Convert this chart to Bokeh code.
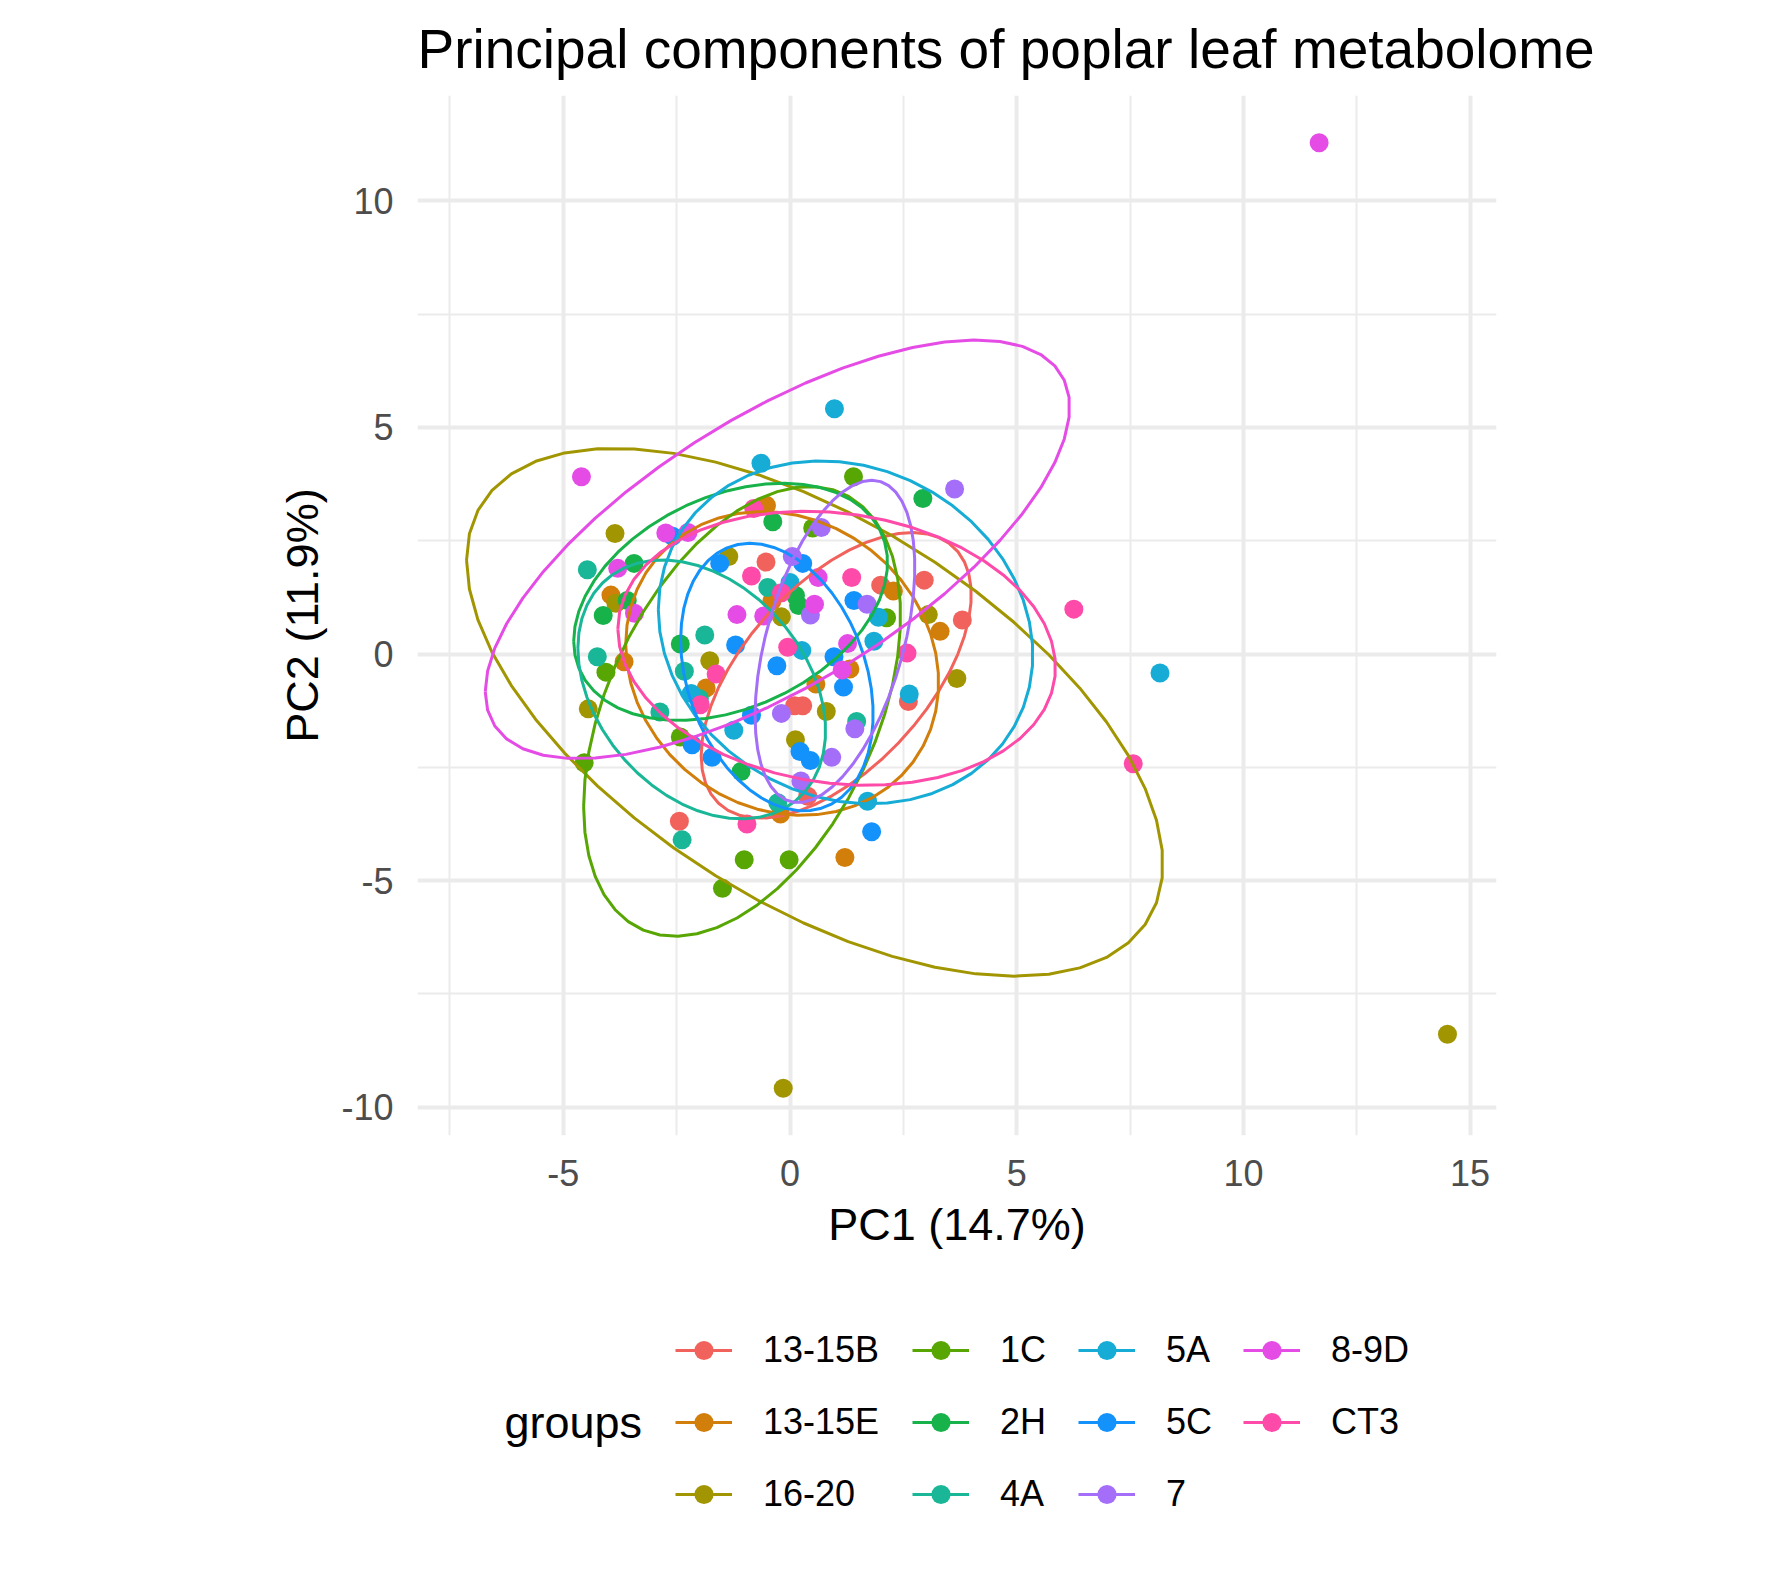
import numpy as np
from bokeh.plotting import figure
from bokeh.layouts import column
from bokeh.models import Range1d, FixedTicker, Legend, LegendItem, Label
from bokeh.embed import file_html
from bokeh.resources import INLINE

FONT = "Liberation Sans"

# ---------------- data ----------------
groups = ["13-15B", "13-15E", "16-20", "1C", "2H", "4A", "5A", "5C", "7", "8-9D", "CT3"]
colors = ["#F2625C", "#D17E0B", "#A19602", "#57A603", "#18B24A", "#19B797",
          "#17ACD5", "#1392FC", "#A46EF8", "#E54CE6", "#FE4AA8"]

g_13_15B_pc1 = [-0.53, 2.00, 2.96, 3.80, 0.10, 0.28, 2.61, 0.39, -2.44]
g_13_15B_pc2 = [2.03, 1.52, 1.63, 0.75, -1.14, -1.14, -1.05, -3.14, -3.69]

g_13_15E_pc1 = [-0.52, -3.95, -3.66, -0.40, 2.28, 3.31, -1.85, 0.57, 1.32, -0.21, 1.21]
g_13_15E_pc2 = [3.28, 1.30, -0.17, 1.17, 1.39, 0.50, -0.75, -0.66, -0.33, -3.53, -4.49]

g_16_20_pc1 = [-3.86, -3.84, -4.45, -1.35, -0.19, -1.77, 0.12, 0.80, 3.05, 3.68, -0.15, 14.50]
g_16_20_pc2 = [2.66, 1.12, -1.21, 2.15, 0.82, -0.15, -1.89, -1.27, 0.87, -0.54, -9.58, -8.39]

g_1C_pc1 = [1.40, 0.50, 2.13, -4.06, -2.42, -4.54, -1.01, -0.02, -1.49]
g_1C_pc2 = [3.91, 2.78, 0.80, -0.40, -1.83, -2.40, -4.54, -4.54, -5.17]

g_2H_pc1 = [-0.38, 2.93, -3.44, -3.59, -4.12, -2.42, 0.12, 0.19, -1.08]
g_2H_pc2 = [2.92, 3.43, 2.00, 1.18, 0.85, 0.22, 1.29, 1.07, -2.59]

g_4A_pc1 = [-4.47, -4.25, -2.87, -0.49, -1.88, -2.33, -2.00, 1.47, -0.27, -2.38]
g_4A_pc2 = [1.86, -0.06, -1.28, 1.47, 0.42, -0.38, -0.98, -1.49, -3.28, -4.10]

g_5A_pc1 = [-0.64, 0.98, 0.00, 1.95, 1.85, 0.26, -2.18, -1.24, 2.63, 1.71, 8.16]
g_5A_pc2 = [4.21, 5.41, 1.58, 0.81, 0.28, 0.08, -0.87, -1.68, -0.88, -3.25, -0.42]

g_5C_pc1 = [-2.59, -1.55, 0.28, 1.41, -1.20, -0.29, 0.97, 1.18, -0.85, -2.16, -1.72, 0.22, 0.45, 1.80]
g_5C_pc2 = [2.60, 2.00, 2.00, 1.18, 0.20, -0.26, -0.06, -0.73, -1.35, -2.00, -2.28, -2.15, -2.35, -3.92]

g_7_pc1 = [0.69, 0.05, 3.63, 1.70, 0.45, -0.19, 1.43, 0.92, 0.24]
g_7_pc2 = [2.79, 2.15, 3.64, 1.10, 0.86, -1.31, -1.65, -2.28, -2.80]

g_8_9D_pc1 = [-4.60, -2.74, -2.25, -3.80, -3.43, -1.17, -0.58, 0.62, 0.54, 1.27, 1.15, 11.67]
g_8_9D_pc2 = [3.91, 2.67, 2.68, 1.89, 0.90, 0.87, 0.84, 1.69, 1.10, 0.23, -0.35, 11.28]

g_CT3_pc1 = [-0.80, -0.85, -0.19, 1.36, -0.05, 2.58, -1.63, -1.98, -0.95, 6.26, 7.57]
g_CT3_pc2 = [3.21, 1.72, 1.35, 1.69, 0.15, 0.02, -0.44, -1.12, -3.75, 0.99, -2.42]

x_ticks = [-5, 0, 5, 10, 15]
x_tick_labels = ["-5", "0", "5", "10", "15"]
y_ticks = [-10, -5, 0, 5, 10]
y_tick_labels = ["-10", "-5", "0", "5", "10"]

pc1_by_group = [g_13_15B_pc1, g_13_15E_pc1, g_16_20_pc1, g_1C_pc1, g_2H_pc1, g_4A_pc1,
                g_5A_pc1, g_5C_pc1, g_7_pc1, g_8_9D_pc1, g_CT3_pc1]
pc2_by_group = [g_13_15B_pc2, g_13_15E_pc2, g_16_20_pc2, g_1C_pc2, g_2H_pc2, g_4A_pc2,
                g_5A_pc2, g_5C_pc2, g_7_pc2, g_8_9D_pc2, g_CT3_pc2]

# ---------------- normal-probability ellipses (68 %) from each group's covariance ----------------
ed = np.sqrt(-2.0 * np.log(1.0 - 0.68))
theta = np.concatenate([np.linspace(-np.pi, np.pi, 50), np.linspace(np.pi, -np.pi, 50)])
circle = np.column_stack([np.cos(theta), np.sin(theta)])
ellipses = []
for gx, gy in zip(pc1_by_group, pc2_by_group):
    xy = np.column_stack([gx, gy])
    mu = xy.mean(axis=0)
    sigma = np.cov(xy.T)
    R = np.linalg.cholesky(sigma).T
    ellipses.append(ed * circle @ R + mu)

all_x = np.concatenate([np.asarray(v, float) for v in pc1_by_group] + [e[:, 0] for e in ellipses])
all_y = np.concatenate([np.asarray(v, float) for v in pc2_by_group] + [e[:, 1] for e in ellipses])
xpad = 0.05 * (all_x.max() - all_x.min())
ypad = 0.05 * (all_y.max() - all_y.min())
x0, x1 = all_x.min() - xpad, all_x.max() + xpad
y0, y1 = all_y.min() - ypad, all_y.max() + ypad

# ---------------- layout ----------------
W, H = 1783, 1574
H1 = 1290                      # main plot height; legend strip below
SCALE = 45.33
LEFT, TOP = 417, 95
fw = int(round((x1 - x0) * SCALE))
fh = int(round((y1 - y0) * SCALE))
RIGHT = W - LEFT - fw

p = figure(width=W, height=H1, x_range=Range1d(x0, x1), y_range=Range1d(y0, y1),
           output_backend="svg", toolbar_location=None,
           min_border_left=LEFT, min_border_top=TOP,
           min_border_right=RIGHT, min_border_bottom=H1 - TOP - fh)
p.outline_line_color = None
p.background_fill_color = "white"
p.border_fill_color = "white"

p.title.text = "Principal components of poplar leaf metabolome"
p.title.text_font = FONT
p.title.text_font_size = "55px"
p.title.text_font_style = "normal"
p.title.text_color = "black"
p.title.align = "left"
p.title.standoff = 31

xticker = FixedTicker(ticks=x_ticks, minor_ticks=[t + 2.5 for t in [-10] + x_ticks])
yticker = FixedTicker(ticks=y_ticks, minor_ticks=[t + 2.5 for t in y_ticks[:-1]])
p.xaxis.ticker = xticker
p.yaxis.ticker = yticker
p.xgrid.ticker = xticker
p.ygrid.ticker = yticker
p.xaxis.major_label_overrides = {t: s for t, s in zip(x_ticks, x_tick_labels)}
p.yaxis.major_label_overrides = {t: s for t, s in zip(y_ticks, y_tick_labels)}

for g in (p.xgrid[0], p.ygrid[0]):
    g.grid_line_color = "#EBEBEB"
    g.grid_line_width = 4
    g.minor_grid_line_color = "#EBEBEB"
    g.minor_grid_line_width = 2

for ax in (p.xaxis[0], p.yaxis[0]):
    ax.axis_line_color = None
    ax.major_tick_line_color = None
    ax.minor_tick_line_color = None
    ax.major_tick_out = 0
    ax.major_tick_in = 0
    ax.minor_tick_out = 0
    ax.minor_tick_in = 0
    ax.major_label_text_font = FONT
    ax.major_label_text_font_size = "36px"
    ax.major_label_text_color = "#4D4D4D"
    ax.axis_label_text_font = FONT
    ax.axis_label_text_font_size = "45px"
    ax.axis_label_text_font_style = "normal"
    ax.axis_label_text_color = "black"

p.xaxis.axis_label = "PC1 (14.7%)"
p.yaxis.axis_label = "PC2 (11.9%)"
p.xaxis.major_label_standoff = 24
p.yaxis.major_label_standoff = 24
p.xaxis.axis_label_standoff = 10
p.yaxis.axis_label_standoff = 10

# ---------------- glyphs ----------------
for i in range(len(groups)):
    p.scatter(pc1_by_group[i], pc2_by_group[i], size=19, fill_color=colors[i], line_color=None)
for i, ell in enumerate(ellipses):
    p.line(ell[:, 0], ell[:, 1], line_color=colors[i], line_width=3)

# ---------------- legend strip (separate figure below the plot, frame aligned with p) ----------------
H2 = H - H1
q = figure(width=W, height=H2, x_range=Range1d(0, fw), y_range=Range1d(0, H2),
           x_axis_type=None, y_axis_type=None, output_backend="svg", toolbar_location=None,
           min_border_left=LEFT, min_border_right=RIGHT, min_border_top=0, min_border_bottom=0)
q.outline_line_color = None
q.background_fill_color = "white"
q.border_fill_color = "white"
q.xgrid.visible = False
q.ygrid.visible = False

key_line, key_dot = [], []
for i in range(len(groups)):
    key_dot.append(q.scatter(pc1_by_group[i], pc2_by_group[i], size=19, fill_color=colors[i],
                             line_color=None, visible=False))
    key_line.append(q.line(ellipses[i][:, 0], ellipses[i][:, 1], line_color=colors[i],
                           line_width=3, visible=False))

columns = [[0, 1, 2], [3, 4, 5], [6, 7, 8], [9, 10]]
col_left = [675, 912, 1078, 1243]          # absolute page x of each key column
row1_center = 1350 - H1
pitch = 72
item_h = 48
for col, xl in zip(columns, col_left):
    items = [LegendItem(label=groups[i], renderers=[key_line[i], key_dot[i]]) for i in col]
    n = len(col)
    height = n * item_h + (n - 1) * (pitch - item_h)
    top = row1_center - item_h / 2
    bottom = top + height
    leg = Legend(items=items, location=(xl - LEFT, H2 - bottom),
                 orientation="vertical", padding=0, margin=0, spacing=pitch - item_h,
                 glyph_width=57, glyph_height=item_h, label_height=item_h,
                 label_standoff=31, label_text_font=FONT, label_text_font_size="36px",
                 label_text_color="black", border_line_color=None,
                 background_fill_alpha=0)
    q.add_layout(leg)

q.add_layout(Label(x=504 - LEFT, y=H2 - (1422 - H1), x_units="screen", y_units="screen",
                   text="groups", text_font=FONT, text_font_size="45px",
                   text_baseline="middle", text_align="left", text_color="black"))

layout = column(p, q, spacing=0)
open("out.html", "w").write(file_html(layout, INLINE))
